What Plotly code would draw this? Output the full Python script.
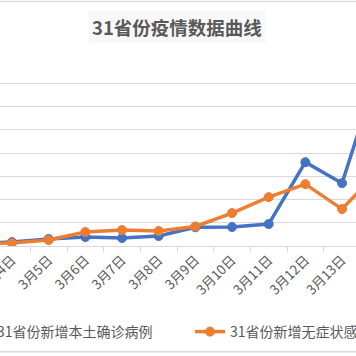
import plotly.graph_objects as go

categories = ["3月3日", "3月4日", "3月5日", "3月6日", "3月7日", "3月8日",
              "3月9日", "3月10日", "3月11日", "3月12日", "3月13日", "3月14日"]
confirmed = [60, 86, 150, 193, 172, 214, 402, 408, 472, 1802, 1351, 3800]
asymptomatic = [50, 64, 129, 300, 343, 322, 420, 708, 1051, 1330, 794, 1620]
series_names = ["31省份新增本土确诊病例", "31省份新增无症状感染者"]
title_text = "31省份疫情数据曲线"

BLUE = "#4472C4"
ORANGE = "#ED7D31"
GRID = "#D9D9D9"
TXT = "#595959"
FONT = "Noto Sans CJK SC"

W, H = 356, 356
top, axis_y = 60, 246
ph = axis_y - top

fig = go.Figure()
for name, vals, col, lg in [(series_names[0], confirmed, BLUE, "legend"),
                            (series_names[1], asymptomatic, ORANGE, "legend2")]:
    fig.add_trace(go.Scatter(
        x=categories, y=vals, name=name, mode="lines+markers",
        line=dict(color=col, width=3.5),
        marker=dict(color=col, size=9, line=dict(color=col, width=1)),
        legend=lg,
    ))

# category index -> pixel: 12 + (i-1)*36.67
step = 36.67
x0 = 1 - 12 / step
x1 = x0 + W / step

leg_common = dict(orientation="h", xanchor="left",
                  y=(axis_y - 332) / ph, yanchor="middle",
                  font=dict(size=14, color=TXT, family=FONT),
                  bgcolor="rgba(0,0,0,0)", borderwidth=0)

fig.update_layout(
    width=W, height=H,
    margin=dict(l=0, r=0, t=top, b=H - axis_y, autoexpand=False),
    paper_bgcolor="white", plot_bgcolor="white",
    font=dict(family=FONT, color=TXT, size=13.3),
    showlegend=True,
    legend=dict(x=-43 / W, **leg_common),
    legend2=dict(x=190 / W, **leg_common),
    xaxis=dict(type="category", range=[x0, x1], showgrid=False,
               showline=True, linecolor=GRID, linewidth=1,
               ticks="outside", ticklen=5, tickcolor=GRID,
               tickson="boundaries", tickangle=-45,
               tickfont=dict(size=13.3, color=TXT, family=FONT)),
    yaxis=dict(range=[0, 4000], dtick=500, showgrid=True, gridcolor=GRID,
               gridwidth=1, zeroline=False, showticklabels=False),
    annotations=[dict(text=title_text, xref="paper", yref="paper",
                      x=176.5 / W, y=(axis_y - 27.5) / ph,
                      xanchor="center", yanchor="middle", showarrow=False,
                      bgcolor="#F8F8F8", borderpad=3,
                      font=dict(size=18.5, color=TXT, family=FONT, weight="bold"))],
    shapes=[
        dict(type="line", xref="paper", yref="paper", x0=0, x1=1,
             y0=(axis_y - 1.5) / ph, y1=(axis_y - 1.5) / ph,
             line=dict(color=GRID, width=1.5)),
        dict(type="line", xref="paper", yref="paper", x0=0, x1=1,
             y0=(axis_y - 351.7) / ph, y1=(axis_y - 351.7) / ph,
             line=dict(color=GRID, width=1.5)),
    ],
)

fig.write_html("out.html",
               config={"displayModeBar": False},
               post_script="document.body.style.margin='0';document.body.style.padding='0';document.body.style.overflow='hidden';")
